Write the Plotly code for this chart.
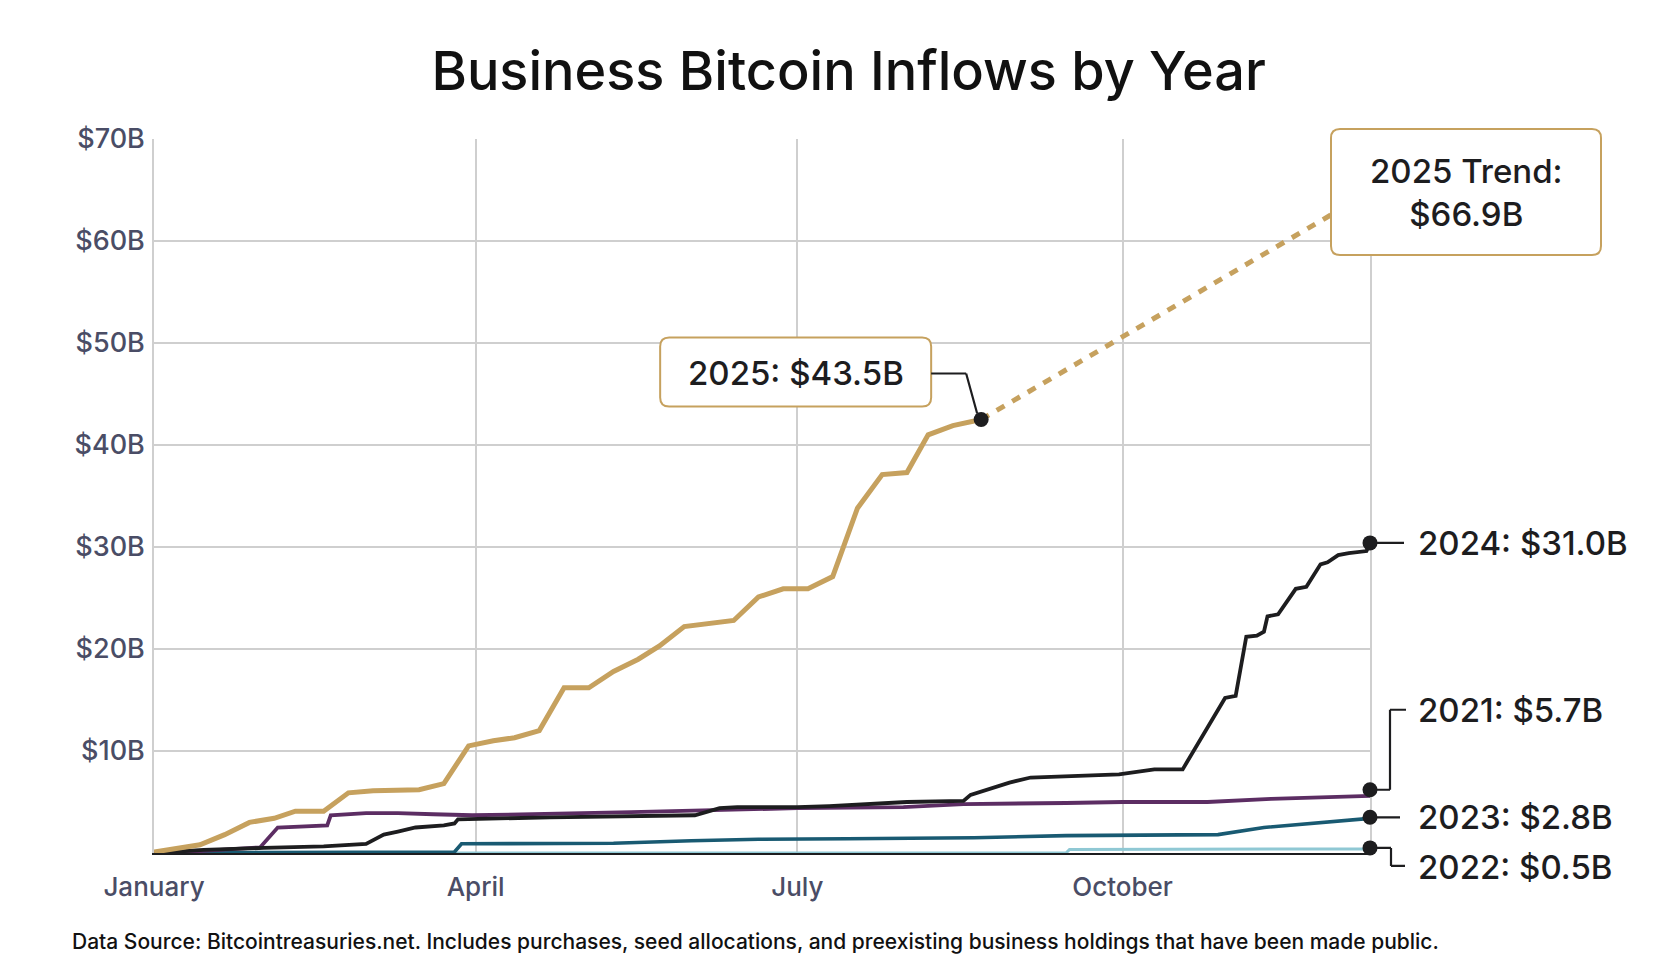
import plotly.graph_objects as go

# One common calendar year is used for every series (only month/day matter)
dates_2025 = ["2024-01-01", "2024-01-14", "2024-01-21", "2024-01-28", "2024-02-04", "2024-02-10",
              "2024-02-18", "2024-02-25", "2024-03-03", "2024-03-10", "2024-03-16", "2024-03-23",
              "2024-03-30", "2024-04-06", "2024-04-12", "2024-04-19", "2024-04-26", "2024-05-03",
              "2024-05-10", "2024-05-17", "2024-05-23", "2024-05-30", "2024-06-06", "2024-06-13",
              "2024-06-20", "2024-06-27", "2024-07-04", "2024-07-11", "2024-07-18", "2024-07-25",
              "2024-08-01", "2024-08-07", "2024-08-14", "2024-08-22"]
vals_2025 = [0.1, 0.8, 1.8, 3.0, 3.4, 4.1, 4.1, 5.9, 6.1, 6.1, 6.2, 6.8, 10.5, 11.0, 11.3, 12.0,
             16.2, 16.2, 17.8, 19.0, 20.3, 22.2, 22.5, 22.8, 25.1, 25.9, 25.9, 27.1, 33.8, 37.1,
             37.3, 41.0, 41.9, 42.5]

dates_2024 = ["2024-01-01", "2024-01-15", "2024-02-01", "2024-02-18", "2024-03-01", "2024-03-06",
              "2024-03-10", "2024-03-15", "2024-03-23", "2024-03-26", "2024-03-27", "2024-04-22",
              "2024-06-02", "2024-06-09", "2024-06-14", "2024-07-01", "2024-07-10", "2024-08-01",
              "2024-08-17", "2024-08-19", "2024-08-30", "2024-09-05", "2024-09-30", "2024-10-10",
              "2024-10-18", "2024-10-22", "2024-10-30", "2024-11-02", "2024-11-05", "2024-11-08",
              "2024-11-10", "2024-11-11", "2024-11-14", "2024-11-19", "2024-11-22", "2024-11-26",
              "2024-11-28", "2024-12-01", "2024-12-04", "2024-12-09", "2024-12-10"]
vals_2024 = [0.0, 0.3, 0.5, 0.65, 0.9, 1.8, 2.1, 2.5, 2.7, 2.9, 3.3, 3.5, 3.7, 4.4, 4.5, 4.5,
             4.6, 5.0, 5.1, 5.7, 6.9, 7.4, 7.7, 8.2, 8.2, 10.5, 15.2, 15.4, 21.2, 21.3, 21.7,
             23.2, 23.4, 25.9, 26.1, 28.3, 28.5, 29.2, 29.4, 29.6, 30.4]

dates_2021 = ["2024-01-01", "2024-01-15", "2024-01-31", "2024-02-05", "2024-02-19", "2024-02-20",
              "2024-03-01", "2024-03-10", "2024-03-20", "2024-03-31", "2024-05-15", "2024-06-15",
              "2024-07-01", "2024-07-31", "2024-08-17", "2024-09-15", "2024-10-01", "2024-10-25",
              "2024-11-12", "2024-12-10"]
vals_2021 = [0.0, 0.2, 0.55, 2.5, 2.7, 3.7, 3.9, 3.9, 3.8, 3.7, 4.0, 4.3, 4.4, 4.5, 4.8, 4.9,
             5.0, 5.0, 5.3, 5.6]

dates_2023 = ["2024-01-01", "2024-03-26", "2024-03-28", "2024-05-10", "2024-06-01", "2024-06-20",
              "2024-07-15", "2024-08-20", "2024-09-15", "2024-10-15", "2024-10-28", "2024-11-10",
              "2024-11-20", "2024-12-10"]
vals_2023 = [0.0, 0.1, 0.9, 0.95, 1.2, 1.35, 1.4, 1.5, 1.7, 1.75, 1.8, 2.5, 2.8, 3.4]

dates_2022 = ["2024-01-01", "2024-09-15", "2024-09-16", "2024-12-10"]
vals_2022 = [0.0, 0.0, 0.35, 0.4]

trend_dates = ["2024-08-22", "2024-12-10"]
trend_vals = [42.5, 64.8]

end_date = "2024-12-10"
dot_dates = ["2024-08-22", end_date, end_date, end_date, end_date]
dot_vals = [42.5, 30.4, 6.2, 3.5, 0.5]

end_labels = ["2024: $31.0B", "2021: $5.7B", "2023: $2.8B", "2022: $0.5B"]
label_2025 = "2025: $43.5B"
label_trend = "2025 Trend:<br>$66.9B"

y_ticks = [10, 20, 30, 40, 50, 60, 70]
y_labels = ["$10B", "$20B", "$30B", "$40B", "$50B", "$60B", "$70B"]
x_ticks = ["2024-01-01", "2024-04-01", "2024-07-01", "2024-10-01"]
x_labels = ["January", "April", "July", "October"]

GOLD = "#C6A15E"
INK = "#1D1D1F"
PURPLE = "#5C2D63"
TEAL = "#195A72"
LIGHT = "#8FC8D4"
GRID = "#CFCFCF"
AXIS_TXT = "#4A4D66"
FONT = "Inter"

fig = go.Figure()

fig.add_trace(go.Scatter(x=dates_2022, y=vals_2022, mode="lines", line=dict(color=LIGHT, width=3)))
fig.add_trace(go.Scatter(x=dates_2023, y=vals_2023, mode="lines", line=dict(color=TEAL, width=3.6)))
fig.add_trace(go.Scatter(x=dates_2021, y=vals_2021, mode="lines", line=dict(color=PURPLE, width=3.8)))
fig.add_trace(go.Scatter(x=dates_2024, y=vals_2024, mode="lines", line=dict(color=INK, width=3.8)))
fig.add_trace(go.Scatter(x=dates_2025, y=vals_2025, mode="lines", line=dict(color=GOLD, width=5)))
fig.add_trace(go.Scatter(x=trend_dates, y=trend_vals, mode="lines",
                         line=dict(color=GOLD, width=5, dash="9px,9px")))
fig.add_trace(go.Scatter(x=dot_dates, y=dot_vals, mode="markers", cliponaxis=False,
                         marker=dict(color=INK, size=15)))


def rrect(x0, y0, x1, y1, r):
    return (f"M{x0 + r},{y0} H{x1 - r} Q{x1},{y0} {x1},{y0 + r} V{y1 - r} "
            f"Q{x1},{y1} {x1 - r},{y1} H{x0 + r} Q{x0},{y1} {x0},{y1 - r} "
            f"V{y0 + r} Q{x0},{y0} {x0 + r},{y0} Z")


def connector(x, y, pts):
    # elbow line built from arrow-less annotation segments (pixel offsets, y up)
    for (x0, y0), (x1, y1) in zip(pts[:-1], pts[1:]):
        fig.add_annotation(x=x, y=y, xref="x", yref="y", text="", showarrow=True,
                           arrowhead=0, arrowwidth=2.2, arrowcolor=INK,
                           xshift=x1, yshift=y1, ax=x0 - x1, ay=-(y0 - y1),
                           axref="pixel", ayref="pixel", standoff=0, startstandoff=0,
                           borderpad=0, borderwidth=0)


# 2025 callout box
fig.add_shape(type="path", xref="x", yref="y", xsizemode="pixel", ysizemode="pixel",
              xanchor=dot_dates[0], yanchor=dot_vals[0],
              path=rrect(-321, 13, -50, 82, 9),
              line=dict(color=GOLD, width=2), fillcolor="white", layer="above")
fig.add_annotation(x=dot_dates[0], y=dot_vals[0], xref="x", yref="y", text=label_2025,
                   showarrow=False, xshift=-185, yshift=47, xanchor="center", yanchor="middle",
                   font=dict(family=FONT, size=33, color=INK, weight=500))
connector(dot_dates[0], dot_vals[0], [(-50, 46), (-15, 46), (-4, 6)])

# trend callout box
fig.add_shape(type="path", xref="paper", yref="paper", xsizemode="pixel", ysizemode="pixel",
              xanchor=1, yanchor=1, path=rrect(-39, -116, 231, 10, 9),
              line=dict(color=GOLD, width=2), fillcolor="white", layer="above")
fig.add_annotation(x=1, y=1, xref="paper", yref="paper", text=label_trend, showarrow=False,
                   xshift=96, yshift=-53, xanchor="center", yanchor="middle",
                   font=dict(family=FONT, size=33, color=INK, weight=500))

# right-hand labels
label_shift = [0, 80, 0, -19]
paths = [
    [(7, 0), (34, 0)],
    [(7, 0), (20, 0), (20, 80), (36, 80)],
    [(7, 0), (30, 0)],
    [(7, 0), (21, 0), (21, -18), (35, -18)],
]
for i, txt in enumerate(end_labels):
    connector(dot_dates[i + 1], dot_vals[i + 1], paths[i])
    fig.add_annotation(x=dot_dates[i + 1], y=dot_vals[i + 1], xref="x", yref="y", text=txt,
                       showarrow=False, xshift=46, yshift=label_shift[i],
                       xanchor="left", yanchor="middle",
                       font=dict(family=FONT, size=33, color=INK, weight=500))

fig.add_annotation(x=0, y=0, xref="paper", yref="paper", xanchor="left", yanchor="middle",
                   xshift=-84, yshift=-88, showarrow=False,
                   text="Data Source: Bitcointreasuries.net. Includes purchases, seed allocations, "
                        "and preexisting business holdings that have been made public.",
                   font=dict(family=FONT, size=21, color="#111111", weight=500))

fig.update_layout(
    width=1658,
    height=978,
    margin=dict(l=146, r=296, t=131, b=133),
    paper_bgcolor="white",
    plot_bgcolor="white",
    showlegend=False,
    title=dict(text="Business Bitcoin Inflows by Year", x=0.507, xanchor="center",
               y=1 - 63 / 978, yanchor="middle", yref="container",
               font=dict(family=FONT, size=54, color="#111111", weight=500)),
    xaxis=dict(type="date", range=["2024-01-01", end_date], tickvals=x_ticks, ticktext=x_labels,
               showgrid=True, gridcolor=GRID, gridwidth=1.5, showline=True, linecolor=INK,
               linewidth=2, ticks="", ticklabelstandoff=10, zeroline=False,
               layer="below traces",
               tickfont=dict(family=FONT, size=26, color=AXIS_TXT, weight=500)),
    yaxis=dict(range=[0, 70], tickvals=y_ticks, ticktext=y_labels, showgrid=True,
               gridcolor=GRID, gridwidth=1.5, showline=True, mirror=True, linecolor=GRID,
               linewidth=1.5, ticks="", ticklabelstandoff=2, zeroline=False,
               layer="below traces",
               tickfont=dict(family=FONT, size=27, color=AXIS_TXT, weight=500)),
)

fig.write_html("out.html")
